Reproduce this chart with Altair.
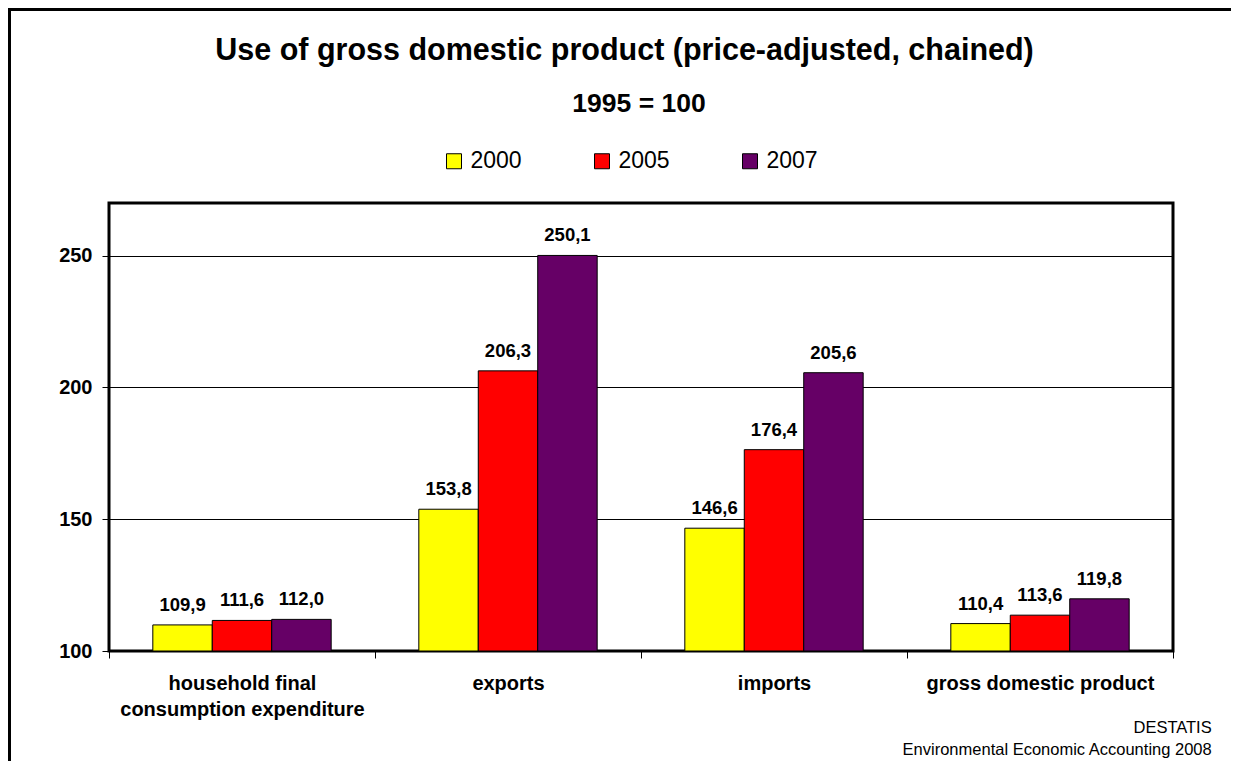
import altair as alt
import pandas as pd

categories = ["household final consumption expenditure", "exports", "imports", "gross domestic product"]
years = ["2000", "2005", "2007"]
values_2000 = [109.9, 153.8, 146.6, 110.4]
values_2005 = [111.6, 206.3, 176.4, 113.6]
values_2007 = [112.0, 250.1, 205.6, 119.8]
colors = ["#FFFF00", "#FF0000", "#660066"]
y_ticks = [100, 150, 200, 250]

rows = []
for yr, vals in zip(years, [values_2000, values_2005, values_2007]):
    for c, v in zip(categories, vals):
        rows.append({"category": c, "year": yr, "value": v})
df = pd.DataFrame(rows)

FONT = "Liberation Sans"
W, H = 1064, 448

x_enc = alt.X(
    "category:N",
    sort=categories,
    scale=alt.Scale(paddingInner=0, paddingOuter=0),
    axis=alt.Axis(
        title=None, domain=False, tickBand="extent", tickColor="black", tickSize=7,
        tickWidth=1, labelAngle=0, labelFont=FONT, labelFontSize=20,
        labelFontWeight="bold", labelColor="black", labelPadding=15,
        labelLineHeight=26, labelLimit=0, grid=False,
        labelExpr="datum.value == 'household final consumption expenditure' ? ['household final', 'consumption expenditure'] : datum.label",
    ),
)
xo_enc = alt.XOffset("year:N", sort=years, scale=alt.Scale(paddingInner=0, paddingOuter=0.737))
y_scale = alt.Scale(domain=[100, 270], nice=False, zero=False)

bars = alt.Chart(df).mark_bar(stroke="black", strokeWidth=1).encode(
    x=x_enc,
    xOffset=xo_enc,
    y=alt.Y(
        "value:Q", scale=y_scale,
        axis=alt.Axis(
            title=None, values=y_ticks, domain=False, tickColor="black", tickSize=7,
            labelFont=FONT, labelFontSize=20, labelFontWeight="bold", labelColor="black",
            labelPadding=10, grid=True, gridColor="black", gridWidth=1,
        ),
    ),
    y2=alt.datum(100),
    color=alt.Color(
        "year:N", sort=years, scale=alt.Scale(domain=years, range=colors),
        legend=alt.Legend(
            orient="none", legendX=333.5, legendY=-53.5, direction="horizontal", title=None,
            symbolType="square", symbolSize=225, symbolStrokeColor="black", symbolStrokeWidth=1,
            symbolOpacity=1, labelFont=FONT, labelFontSize=23, labelColor="black",
            labelOffset=5, columnPadding=68, padding=0,
        ),
    ),
)

labels = alt.Chart(df).transform_calculate(
    lbl="replace(format(datum.value, '.1f'), '.', ',')"
).mark_text(
    font=FONT, fontSize=18.5, fontWeight="bold", color="black", baseline="alphabetic", dy=-14
).encode(
    x=alt.X("category:N", sort=categories),
    xOffset=alt.XOffset("year:N", sort=years),
    y=alt.Y("value:Q"),
    text="lbl:N",
)

one = pd.DataFrame({"k": [0]})

title = alt.Chart(one).mark_text(
    text="Use of gross domestic product (price-adjusted, chained)", font=FONT, fontSize=30.5,
    fontWeight="bold", color="black", align="center", baseline="alphabetic"
).encode(x=alt.value(515.5), y=alt.value(-143))

subtitle = alt.Chart(one).mark_text(
    text="1995 = 100", font=FONT, fontSize=26.5, fontWeight="bold", color="black",
    align="center", baseline="alphabetic"
).encode(x=alt.value(530), y=alt.value(-91.3))

foot1 = alt.Chart(one).mark_text(
    text="DESTATIS", font=FONT, fontSize=16.5, color="black", align="right", baseline="alphabetic"
).encode(x=alt.value(1102.7), y=alt.value(530))

foot2 = alt.Chart(one).mark_text(
    text="Environmental Economic Accounting 2008", font=FONT, fontSize=16.5, color="black",
    align="right", baseline="alphabetic"
).encode(x=alt.value(1102.7), y=alt.value(552))

border_top = alt.Chart(one).mark_rule(color="black", strokeWidth=3).encode(
    x=alt.value(-101), x2=alt.value(W + 70), y=alt.value(-193.5)
)
border_left = alt.Chart(one).mark_rule(color="black", strokeWidth=3).encode(
    x=alt.value(-99.5), y=alt.value(-195), y2=alt.value(H + 130)
)

chart = alt.layer(bars, labels, title, subtitle, foot1, foot2, border_top, border_left).properties(
    width=W, height=H,
    autosize=alt.AutoSizeParams(type="none"),
    padding={"left": 101, "top": 195, "right": 58, "bottom": 110},
    background="white",
).configure_view(stroke="black", strokeWidth=3)

chart.save("out.html", embed_options={"renderer": "svg", "actions": False})
